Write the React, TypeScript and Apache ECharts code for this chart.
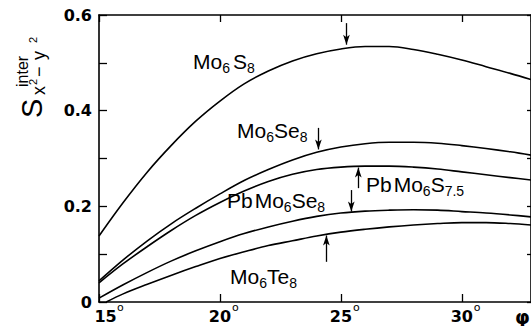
import React, { useEffect, useRef } from 'react';
import * as echarts from 'echarts';

// ---- data (phi in degrees, S values) ----
const phi = [15, 16, 17, 18, 19, 20, 21, 22, 23, 24, 25, 26, 27, 28, 29, 30, 31, 32, 32.86];
const mo6s8 = [0.138, 0.208, 0.272, 0.328, 0.378, 0.42, 0.456, 0.483, 0.504, 0.519, 0.529, 0.534, 0.534, 0.528, 0.518, 0.506, 0.492, 0.478, 0.465];
const mo6se8 = [0.044, 0.088, 0.128, 0.164, 0.196, 0.226, 0.254, 0.277, 0.297, 0.313, 0.324, 0.331, 0.334, 0.334, 0.332, 0.327, 0.321, 0.314, 0.307];
const pbmo6s75 = [0.040, 0.08, 0.116, 0.15, 0.181, 0.208, 0.232, 0.252, 0.267, 0.277, 0.282, 0.284, 0.284, 0.282, 0.278, 0.272, 0.266, 0.26, 0.255];
const pbmo6se8 = [0.008, 0.036, 0.062, 0.086, 0.107, 0.126, 0.143, 0.157, 0.169, 0.179, 0.186, 0.19, 0.192, 0.193, 0.192, 0.189, 0.186, 0.182, 0.178];
const phiTe = [15.3, 16, 17, 18, 19, 20, 21, 22, 23, 24, 25, 26, 27, 28, 29, 30, 31, 32, 32.86];
const mo6te8 = [0, 0.017, 0.037, 0.056, 0.074, 0.091, 0.105, 0.118, 0.128, 0.138, 0.146, 0.152, 0.157, 0.161, 0.164, 0.166, 0.166, 0.164, 0.161];

const xTicks = [15, 20, 25, 30];
const yTickLabels = ['0', '0.2', '0.4', '0.6'];

// arrows marking positions on the curves: [series, phi, fromY, toY]
const arrows: [string, number, number, number][] = [
  ['Mo6S8', 25.23, 0.583, 0.538],
  ['Mo6Se8', 24.07, 0.364, 0.319],
  ['PbMo6S7.5', 25.72, 0.238, 0.281],
  ['PbMo6Se8', 25.43, 0.234, 0.189],
  ['Mo6Te8', 24.4, 0.084, 0.139],
];

const LABEL_FONT = "'Liberation Sans', Arial, sans-serif";
const TICK_FONT = "'DejaVu Sans', sans-serif";

type Part = [string, 'n' | 's' | 'p' | 'g'];

export default function App() {
  const ref = useRef<HTMLDivElement>(null);
  useEffect(() => {
    if (!ref.current) return;
    const chart = echarts.init(ref.current, null, { renderer: 'svg' });
    const ctx = document.createElement('canvas').getContext('2d')!;
    const tw = (t: string, font: string) => {
      ctx.font = font;
      return ctx.measureText(t).width;
    };
    const formula = (x0: number, base: number, parts: Part[], fs: number, sfs: number, drop: number, rise: number) => {
      let x = x0;
      const out: any[] = [];
      for (const [t, k] of parts) {
        if (k === 'g') { x += Number(t); continue; }
        const size = k === 'n' ? fs : sfs;
        const b = k === 's' ? base + drop : k === 'p' ? base - rise : base;
        const font = `${size}px ${LABEL_FONT}`;
        out.push({
          type: 'text', x, y: b - 0.3465 * size, silent: true,
          style: { text: t, fontSize: size, fontFamily: LABEL_FONT, fill: '#000', align: 'left', verticalAlign: 'middle' },
        });
        x += tw(t, font);
      }
      return out;
    };
    const glyph = (t: string, x: number, base: number, size: number) => ({
      type: 'text', x, y: base - 0.3465 * size, silent: true,
      style: { text: t, fontSize: size, fontFamily: LABEL_FONT, fill: '#000', align: 'left', verticalAlign: 'middle' },
    });

    const mk = (name: string, xs: number[], ys: number[]) => {
      const arr = arrows.filter((a) => a[0] === name);
      return {
        type: 'line', name, xAxisIndex: 0, yAxisIndex: 0, data: xs.map((x, i) => [x, ys[i]]), showSymbol: false, smooth: 0.35,
        lineStyle: { color: '#000', width: 1.6 }, silent: true,
        markLine: {
          silent: true, animation: false, symbol: ['none', 'arrow'], symbolSize: [5, 10],
          lineStyle: { color: '#000', width: 1.3, type: 'solid' }, label: { show: false },
          data: arr.map((a) => [{ coord: [a[1], a[2]] }, { coord: [a[1], a[3]] }]),
        },
      };
    };

    const axisCommon = { min: 15, max: 32.86, interval: 5, type: 'value' as const, splitLine: { show: false } };
    const yCommon = { min: 0, max: 0.6, interval: 0.1, type: 'value' as const, splitLine: { show: false } };
    const lineSt = { color: '#000', width: 1.6 };
    const tickFont = { fontSize: 16, fontWeight: 'bold' as const, fontFamily: TICK_FONT, color: '#000' };

    chart.setOption({
      animation: false,
      backgroundColor: '#fff',
      grid: { left: 99, top: 15, width: 433, height: 287 },
      xAxis: [
        {
          ...axisCommon, position: 'bottom',
          axisLine: { show: true, lineStyle: lineSt },
          axisTick: { show: true, inside: true, length: 8, lineStyle: { color: '#000', width: 1.3 } },
          axisLabel: {
            show: true, margin: 6, showMaxLabel: false,
            formatter: (v: number) => {
              if (!xTicks.includes(v)) return '';
              return v === 15 ? `{f|${v}}` : `{n|${v}}`;
            },
            rich: {
              n: { ...tickFont },
              f: { ...tickFont, padding: [0, 0, 0, 13] },
            },
          },
        },
        {
          // degree signs of the bottom tick labels
          ...axisCommon, position: 'bottom',
          axisLine: { show: false }, axisTick: { show: false },
          axisLabel: {
            show: true, margin: 0, showMaxLabel: false, align: 'left',
            formatter: (v: number) => {
              if (!xTicks.includes(v)) return '';
              return v === 15 ? '{f|o}' : '{n|o}';
            },
            rich: {
              n: { fontSize: 11, fontFamily: TICK_FONT, color: '#000', padding: [0, 0, 0, 12] },
              f: { fontSize: 11, fontFamily: TICK_FONT, color: '#000', padding: [0, 0, 0, 18] },
            },
          },
        },
        {
          ...axisCommon, position: 'top',
          axisLine: { show: true, lineStyle: lineSt },
          axisTick: { show: true, inside: true, length: 7, lineStyle: { color: '#000', width: 1.3 } },
          axisLabel: { show: false },
        },
      ],
      yAxis: [
        {
          ...yCommon, position: 'left',
          axisLine: { show: true, lineStyle: lineSt },
          axisTick: { show: true, inside: true, length: 8, lineStyle: { color: '#000', width: 1.3 } },
          axisLabel: {
            show: true, margin: 7, ...tickFont,
            formatter: (v: number) => {
              const k = Math.round(v * 10);
              return k % 2 === 0 ? yTickLabels[k / 2] : '';
            },
          },
        },
        {
          ...yCommon, position: 'right',
          axisLine: { show: true, lineStyle: lineSt },
          axisTick: { show: true, inside: true, length: 4, lineStyle: { color: '#000', width: 1.3 } },
          axisLabel: { show: false },
        },
      ],
      series: [
        mk('Mo6S8', phi, mo6s8),
        mk('Mo6Se8', phi, mo6se8),
        mk('PbMo6S7.5', phi, pbmo6s75),
        mk('PbMo6Se8', phi, pbmo6se8),
        mk('Mo6Te8', phiTe, mo6te8),
      ],
      graphic: [
        ...formula(193, 68.5, [['Mo', 'n'], ['6', 's'], ['3', 'g'], ['S', 'n'], ['8', 's']], 21, 14, 4, 0),
        ...formula(237, 137.5, [['Mo', 'n'], ['6', 's'], ['Se', 'n'], ['8', 's']], 21, 14, 4, 0),
        ...formula(366, 192, [['Pb', 'n'], ['2', 'g'], ['Mo', 'n'], ['6', 's'], ['S', 'n'], ['7.5', 's']], 21, 14, 4, 0),
        ...formula(227, 207.5, [['Pb', 'n'], ['2', 'g'], ['Mo', 'n'], ['6', 's'], ['Se', 'n'], ['8', 's']], 21, 14, 4, 0),
        ...formula(230, 283.5, [['Mo', 'n'], ['6', 's'], ['Te', 'n'], ['8', 's']], 21, 14, 4, 0),
        {
          type: 'text', x: 522.5, y: 316.5, silent: true,
          style: { text: 'φ', fontSize: 19, fontWeight: 'bold', fontFamily: TICK_FONT, fill: '#000', align: 'center', verticalAlign: 'middle' },
        },
        {
          type: 'group', x: 42, y: 118, rotation: Math.PI / 2, silent: true,
          children: [
            glyph('S', 0, 0, 29),
            glyph('inter', 31, -14, 16),
            glyph('x', 23, 3, 18),
            glyph('2', 33, -5, 11),
            glyph('−', 41, 3, 18),
            glyph('y', 58, 3, 18),
            glyph('2', 75, -5, 11),
          ],
        },
      ],
    });
    return () => chart.dispose();
  }, []);
  return <div ref={ref} style={{ position: 'fixed', left: 0, top: 0, width: 531, height: 326, background: '#fff' }} />;
}
